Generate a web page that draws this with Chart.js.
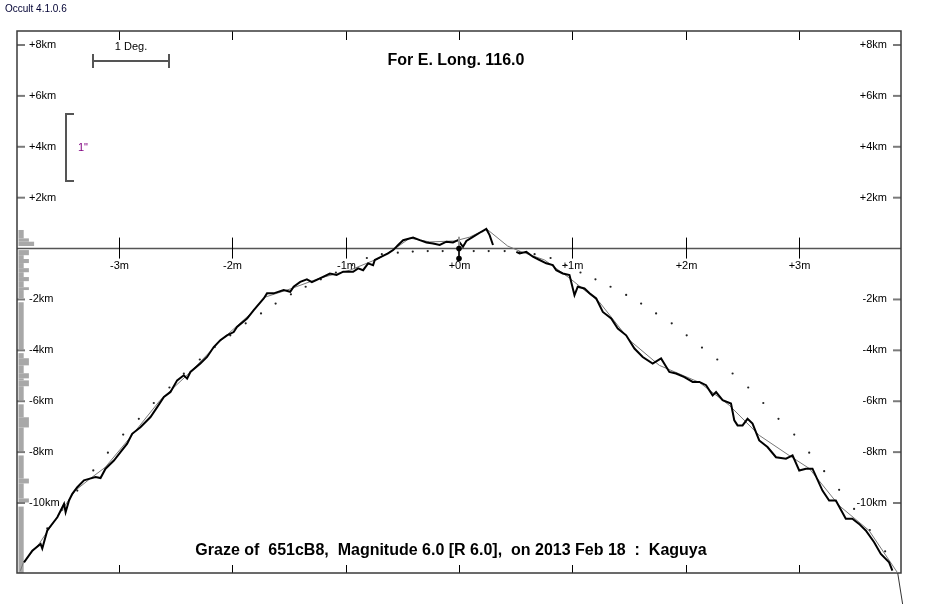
<!DOCTYPE html>
<html>
<head>
<meta charset="utf-8">
<title>Graze of 651cB8</title>
<script src="https://cdn.jsdelivr.net/npm/chart.js@4.4.1/dist/chart.umd.min.js"></script>
<style>
html, body { margin: 0; padding: 0; background: #fff; }
#wrap { position: relative; width: 950px; height: 604px; }
</style>
</head>
<body>
<div id="wrap"><canvas id="chart"></canvas></div>
<script>
// Axis ticks
const xTicks = [-3, -2, -1, 0, 1, 2, 3];
const xTickLabels = ['-3m', '-2m', '-1m', '+0m', '+1m', '+2m', '+3m'];
const yTicks = [8, 6, 4, 2, -2, -4, -6, -8, -10];
const yTickLabels = ['+8km', '+6km', '+4km', '+2km', '-2km', '-4km', '-6km', '-8km', '-10km'];

// Limb profile (minutes, km) - null breaks the line
const profileX = [-3.838, -3.765, -3.692, -3.677, -3.633, -3.544, -3.485, -3.471, -3.441, -3.412,
  -3.368, -3.309, -3.265, -3.207, -3.163, -3.119, -3.045, -2.987, -2.928, -2.884,
  -2.811, -2.722, -2.663, -2.604, -2.546, -2.487, -2.428, -2.399, -2.370, -2.282,
  -2.223, -2.164, -2.106, -2.047, -1.988, -1.959, -1.870, -1.811, -1.723, -1.694,
  -1.635, -1.547, -1.489, -1.459, -1.401, -1.342, -1.298, -1.227, -1.139, -1.080,
  -1.022, -0.934, -0.890, -0.846, -0.802, -0.758, -0.743, -0.684, -0.626, -0.581,
  -0.537, -0.493, -0.405, -0.346, -0.287, -0.229, -0.170, -0.111, -0.053, -0.009,
  0.035, 0.065, 0.123, 0.197, 0.241, 0.270, 0.300, 0.400,
  0.506, 0.535, 0.594, 0.652, 0.711, 0.770, 0.828, 0.858, 0.916, 0.975,
  1.019, 1.048, 1.107, 1.152, 1.211, 1.269, 1.343, 1.401, 1.475, 1.548,
  1.621, 1.709, 1.783, 1.856, 1.915, 1.989, 2.062, 2.121, 2.180, 2.238,
  2.268, 2.326, 2.400, 2.429, 2.458, 2.502, 2.546, 2.590, 2.649, 2.722,
  2.797, 2.885, 2.943, 3.002, 3.061, 3.119, 3.207, 3.266, 3.325, 3.413,
  3.471, 3.530, 3.589, 3.663, 3.722, 3.795, 3.824];
const profileY = [-12.33, -11.87, -11.61, -11.79, -11.08, -10.56, -10.03, -10.36, -9.90, -9.64,
  -9.38, -9.11, -9.05, -8.98, -9.02, -8.65, -8.33, -8.00, -7.67, -7.28,
  -7.02, -6.62, -6.23, -5.83, -5.64, -5.18, -4.98, -5.11, -4.85, -4.52,
  -4.26, -3.87, -3.60, -3.41, -3.28, -3.08, -2.75, -2.42, -1.96, -1.76,
  -1.76, -1.63, -1.70, -1.50, -1.31, -1.21, -1.32, -1.17, -0.98, -1.04,
  -0.91, -0.91, -0.78, -0.85, -0.58, -0.65, -0.45, -0.32, -0.19, -0.06,
  0.14, 0.33, 0.43, 0.33, 0.24, 0.20, 0.14, 0.27, 0.24, 0.33,
  0.07, 0.30, 0.46, 0.66, 0.77, 0.53, 0.14, null,
  -0.13, -0.19, -0.13, -0.32, -0.45, -0.58, -0.65, -0.85, -0.98, -1.04,
  -1.83, -1.50, -1.57, -1.76, -1.96, -2.49, -2.75, -3.14, -3.41, -3.93,
  -4.26, -4.52, -4.32, -4.85, -4.91, -5.05, -5.24, -5.24, -5.37, -5.77,
  -5.64, -5.96, -6.09, -6.75, -6.95, -6.95, -6.69, -6.88, -7.54, -7.80,
  -8.20, -8.26, -8.13, -8.72, -8.65, -8.65, -9.51, -9.90, -9.90, -10.62,
  -10.62, -10.82, -11.08, -11.54, -12.00, -12.33, -12.66];

// Smoothed profile (thin grey line)
const smoothX = [-3.870, -3.844, -3.703, -3.518, -3.386, -3.254, -3.122, -2.901, -2.637, -2.372,
  -2.108, -1.844, -1.712, -1.491, -1.227, -0.963, -0.699, -0.558, -0.434, -0.258,
  -0.038, 0.094, 0.244, 0.429, 0.535, 0.755, 0.975, 1.240, 1.504, 1.768,
  2.121, 2.385, 2.649, 2.913, 3.090, 3.354, 3.618, 3.871];
const smoothY = [-12.66, -12.34, -11.59, -10.37, -9.51, -9.04, -8.60, -7.42, -5.96, -4.86,
  -3.64, -2.58, -1.91, -1.59, -1.16, -0.85, -0.37, 0.02, 0.41, 0.26,
  0.30, 0.45, 0.77, 0.10, -0.10, -0.45, -1.16, -2.11, -3.60, -4.59,
  -5.26, -6.16, -7.34, -8.13, -8.64, -10.10, -11.08, -12.75];
// continuation below the frame
const tailX = [3.871, 3.915];
const tailY = [-12.75, -13.99];

// Mean limb (dotted)
const meanX = [-3.633, -3.501, -3.368, -3.227, -3.098, -2.963, -2.825, -2.693, -2.555, -2.428,
  -2.287, -2.155, -2.018, -1.882, -1.747, -1.618, -1.483, -1.353, -1.219, -1.086,
  -0.945, -0.813, -0.681, -0.540, -0.408, -0.276, -0.144, 0.130, 0.262, 0.403,
  0.535, 0.667, 0.808, 0.940, 1.072, 1.204, 1.337, 1.475, 1.607, 1.739,
  1.877, 2.009, 2.144, 2.279, 2.414, 2.552, 2.685, 2.819, 2.958, 3.090,
  3.222, 3.354, 3.486, 3.625, 3.760];
const meanY = [-11.00, -10.26, -9.51, -8.72, -8.02, -7.31, -6.69, -6.07, -5.46, -4.91,
  -4.36, -3.87, -3.41, -2.94, -2.55, -2.16, -1.80, -1.50, -1.21, -0.94,
  -0.65, -0.37, -0.22, -0.16, -0.12, -0.10, -0.10, -0.10, -0.10, -0.10,
  -0.14, -0.22, -0.37, -0.65, -0.94, -1.21, -1.50, -1.82, -2.16, -2.55,
  -2.94, -3.41, -3.89, -4.36, -4.91, -5.46, -6.07, -6.69, -7.31, -8.02,
  -8.75, -9.48, -10.23, -11.06, -11.90];

// Observer marker at +0m
const markerX = [0, 0];
const markerY = [0, -0.39];
const markerStemY = [0.46, -0.39];

// Left-edge histogram (km ranges, counts)
const histTop = [0.73, 0.40, 0.27, -0.06, -0.26, -0.41, -0.57, -0.77, -0.93, -1.12,
  -1.28, -1.52, -1.63, -2.11, -4.11, -4.31, -4.59, -4.90, -5.10, -5.18,
  -5.41, -6.12, -6.63, -7.03, -8.13, -9.04, -9.23, -9.82, -10.14];
const histBottom = [0.40, 0.27, 0.10, -0.26, -0.41, -0.57, -0.77, -0.93, -1.12, -1.28,
  -1.52, -1.63, -1.95, -3.96, -4.31, -4.59, -4.90, -5.10, -5.18, -5.41,
  -5.96, -6.63, -7.03, -7.97, -9.04, -9.23, -9.82, -9.98, -12.75];
const histCount = [1, 2, 3, 2, 1, 2, 1, 2, 1, 2,
  1, 2, 1, 1, 1, 2, 1, 2, 1, 2,
  1, 1, 2, 1, 1, 2, 1, 2, 1];

const titleText = 'For E. Long. 116.0';
const footText = 'Graze of  651cB8,  Magnitude 6.0 [R 6.0],  on 2013 Feb 18  :  Kaguya';
const versionText = 'Occult 4.1.0.6';

const pts = (xs, ys) => xs.map((v, i) => ({x: v, y: ys[i]}));
const FONT = '"Liberation Sans", Arial, sans-serif';

function seg(ctx, x1, y1, x2, y2) {
    ctx.beginPath();
    ctx.moveTo(x1, y1);
    ctx.lineTo(x2, y2);
    ctx.stroke();
}

// Frame, axes, ticks, histogram
const grazeFrame = {
    id: 'grazeFrame',
    beforeDatasetsDraw(chart) {
        const {ctx, chartArea: a, scales: {x, y}} = chart;
        ctx.save();

        ctx.fillStyle = '#a8a8a8';
        histCount.forEach((c, i) => {
            if (!c) return;
            const t = y.getPixelForValue(histTop[i]);
            const b = y.getPixelForValue(histBottom[i]);
            ctx.fillRect(a.left + 1.5, t, c * 5.2, b - t);
        });

        const y0 = y.getPixelForValue(0);
        ctx.strokeStyle = '#555';
        ctx.lineWidth = 1.5;
        seg(ctx, a.left, y0, a.right, y0);

        ctx.font = '11px ' + FONT;
        ctx.fillStyle = '#000';
        ctx.textBaseline = 'middle';
        yTicks.forEach((v, i) => {
            const py = y.getPixelForValue(v);
            ctx.strokeStyle = '#7a7a7a';
            ctx.lineWidth = 2;
            seg(ctx, a.left, py, a.left + 8, py);
            seg(ctx, a.right - 8, py, a.right, py);
            ctx.textAlign = 'left';
            ctx.fillText(yTickLabels[i], a.left + 12, py);
            ctx.textAlign = 'right';
            ctx.fillText(yTickLabels[i], a.right - 14, py);
        });

        ctx.strokeStyle = '#000';
        ctx.lineWidth = 1;
        ctx.textAlign = 'center';
        xTicks.forEach((v, i) => {
            const px = Math.round(x.getPixelForValue(v)) + 0.5;
            seg(ctx, px, a.top, px, a.top + 9);
            seg(ctx, px, y0 - 11, px, y0 + 10);
            seg(ctx, px, a.bottom - 8, px, a.bottom);
            ctx.fillText(xTickLabels[i], px, y0 + 17);
        });

        ctx.strokeStyle = '#3a3a3a';
        ctx.lineWidth = 1.5;
        ctx.strokeRect(a.left, a.top, a.right - a.left, a.bottom - a.top);
        ctx.restore();
    },
    afterDraw(chart) {
        const {ctx, chartArea: a} = chart;
        ctx.save();
        ctx.fillStyle = '#000';
        ctx.textBaseline = 'middle';

        ctx.font = '10px ' + FONT;
        ctx.textAlign = 'left';
        ctx.fillStyle = '#000033';
        ctx.fillText(versionText, 5, 9);

        ctx.fillStyle = '#000';
        ctx.font = 'bold 16px ' + FONT;
        ctx.textAlign = 'center';
        ctx.fillText(titleText, 456, 61);
        ctx.fillText(footText, 451, 551);

        // 1 Deg. scale bar
        ctx.strokeStyle = '#555';
        ctx.lineWidth = 2;
        seg(ctx, 93, 61, 169, 61);
        seg(ctx, 93, 54, 93, 68);
        seg(ctx, 169, 54, 169, 68);
        ctx.font = '11px ' + FONT;
        ctx.fillText('1 Deg.', 131, 47);

        // 1" bracket
        ctx.beginPath();
        ctx.moveTo(74, 114);
        ctx.lineTo(66, 114);
        ctx.lineTo(66, 181);
        ctx.lineTo(74, 181);
        ctx.stroke();
        ctx.textAlign = 'left';
        ctx.fillStyle = '#800080';
        ctx.fillText('1"', 78, 148);
        ctx.restore();
    }
};

const config = {
    type: 'scatter',
    data: {
        datasets: [
            {
                label: 'marker',
                data: pts(markerX, markerY),
                showLine: true,
                borderColor: '#000',
                borderWidth: 1.5,
                pointRadius: 2.8,
                pointBackgroundColor: '#000',
                pointBorderWidth: 0,
                order: 0
            },
            {
                label: 'stem',
                data: pts(markerX, markerStemY),
                showLine: true,
                borderColor: '#999',
                borderWidth: 2,
                pointRadius: 0,
                order: 1
            },
            {
                label: 'profile',
                data: pts(profileX, profileY),
                showLine: true,
                spanGaps: false,
                borderColor: '#000',
                borderWidth: 2,
                pointRadius: 0,
                order: 2
            },
            {
                label: 'smooth',
                data: pts(smoothX, smoothY),
                showLine: true,
                borderColor: '#777',
                borderWidth: 1,
                pointRadius: 0,
                order: 3
            },
            {
                label: 'tail',
                data: pts(tailX, tailY),
                showLine: true,
                borderColor: '#333',
                borderWidth: 1,
                pointRadius: 0,
                clip: false,
                order: 4
            },
            {
                label: 'mean limb',
                data: pts(meanX, meanY),
                showLine: false,
                pointRadius: 1.1,
                pointBackgroundColor: '#222',
                pointBorderWidth: 0,
                order: 5
            }
        ]
    },
    options: {
        responsive: true,
        maintainAspectRatio: false,
        animation: false,
        events: [],
        layout: {padding: {left: 17, right: 49, top: 31, bottom: 31}},
        scales: {
            x: {type: 'linear', min: -3.9, max: 3.9, display: false},
            y: {type: 'linear', min: -12.75, max: 8.55, display: false}
        },
        plugins: {
            legend: {display: false},
            tooltip: {enabled: false}
        }
    },
    plugins: [grazeFrame]
};

const grazeChart = new Chart(document.getElementById('chart'), config);
</script>
</body>
</html>
